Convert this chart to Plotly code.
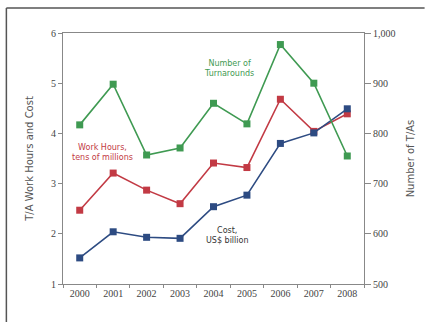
import plotly.graph_objects as go

years = ["2000", "2001", "2002", "2003", "2004", "2005", "2006", "2007", "2008"]
cost = [1.52, 2.04, 1.93, 1.91, 2.54, 2.77, 3.80, 4.01, 4.49]
work_hours = [2.47, 3.21, 2.87, 2.60, 3.41, 3.32, 4.68, 4.04, 4.39]
turnarounds = [817, 898, 757, 771, 860, 819, 977, 900, 755]

green = "#3f9a52"
red = "#c23a44"
blue = "#2d4b82"

fig = go.Figure()
fig.add_trace(go.Scatter(x=years, y=turnarounds, yaxis="y2", mode="lines+markers",
                         line=dict(color=green, width=1.6),
                         marker=dict(symbol="square", size=7, color=green)))
fig.add_trace(go.Scatter(x=years, y=work_hours, mode="lines+markers",
                         line=dict(color=red, width=1.6),
                         marker=dict(symbol="square", size=7, color=red)))
fig.add_trace(go.Scatter(x=years, y=cost, mode="lines+markers",
                         line=dict(color=blue, width=1.6),
                         marker=dict(symbol="square", size=7, color=blue)))

tickfont = dict(family="Liberation Serif", size=10, color="#444")
fig.update_layout(
    width=427, height=322, showlegend=False,
    margin=dict(l=63, r=61, t=33, b=38),
    paper_bgcolor="white", plot_bgcolor="white",
    xaxis=dict(type="category", range=[-0.5, 8.5], showline=True, linecolor="#888",
               linewidth=1.2, mirror=True, ticks="outside", ticklen=3, tickcolor="#888",
               tickson="boundaries", showgrid=False, tickfont=tickfont),
    yaxis=dict(range=[1, 6], dtick=1, showline=True, linecolor="#888", linewidth=1.2,
               ticks="outside", ticklen=4, tickcolor="#888", showgrid=False,
               zeroline=False, tickfont=tickfont,
               title=dict(text="T/A Work Hours and Cost", standoff=15,
                          font=dict(family="DejaVu Sans", size=10, color="#555"))),
    yaxis2=dict(range=[500, 1000], dtick=100, overlaying="y", side="right",
                showline=True, linecolor="#888", linewidth=1.2, ticks="outside",
                ticklen=6, tickcolor="#888", showgrid=False, zeroline=False,
                tickformat=",", tickfont=tickfont,
                title=dict(text="Number of T/As", standoff=12,
                           font=dict(family="DejaVu Sans", size=10, color="#555"))),
)

annfont = dict(family="DejaVu Sans", size=8)
fig.add_annotation(x=4.45, y=5.3, text="Number of<br>Turnarounds", showarrow=False,
                   font=dict(color=green, **annfont))
fig.add_annotation(x=0.69, y=3.62, text="Work Hours,<br>tens of millions", showarrow=False,
                   font=dict(color=red, **annfont))
fig.add_annotation(x=4.42, y=1.97, text="Cost,<br>US$ billion", showarrow=False,
                   font=dict(color="#333", **annfont))

# outer frame
fig.add_shape(type="line", xref="paper", yref="paper", x0=-57/303, x1=61/303 + 1.0,
              y0=1 + 25/251, y1=1 + 25/251, line=dict(color="#555", width=1.5))
fig.add_shape(type="line", xref="paper", yref="paper", x0=-57/303, x1=-57/303,
              y0=1 + 25/251, y1=-38/251, line=dict(color="#555", width=1.5))

fig.write_html("out.html")
